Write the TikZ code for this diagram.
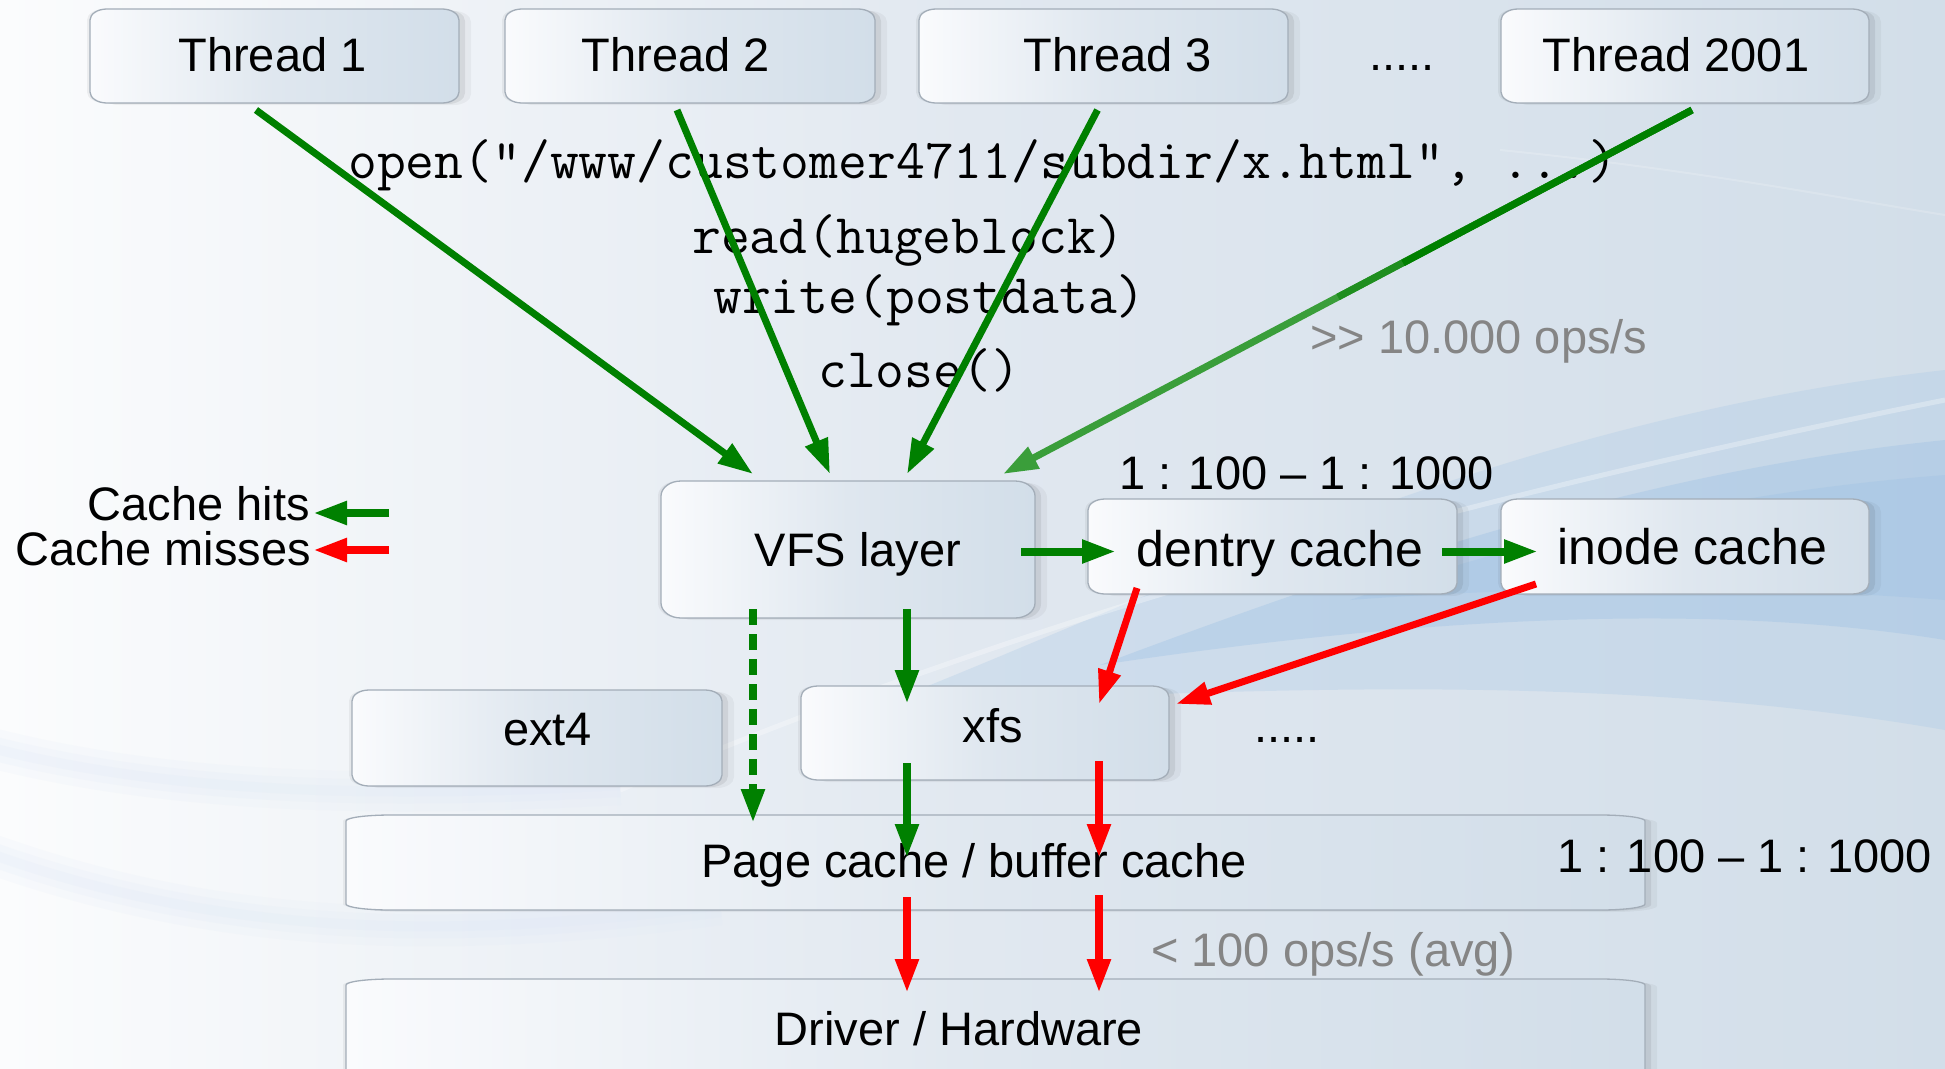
\documentclass[tikz,border=0pt]{standalone}
\usepackage{fontspec}
\setmainfont{Liberation Sans}
\usetikzlibrary{arrows.meta}
\definecolor{gr}{HTML}{008000}
\definecolor{grm}{HTML}{1F8E1F}
\definecolor{grl}{HTML}{3A9E3A}
\definecolor{rd}{HTML}{FF0000}
\definecolor{boxl}{HTML}{FAFBFD}
\definecolor{boxm}{HTML}{DFE7EF}
\definecolor{boxr}{HTML}{D2DEE9}
\definecolor{edgec}{HTML}{A3ADB8}
\definecolor{graytxt}{HTML}{858585}
\definecolor{bgl}{HTML}{FBFCFD}
\definecolor{bgm}{HTML}{E1E8F0}
\definecolor{bgr}{HTML}{D2DEE9}
\definecolor{swa}{HTML}{A9C8E6}
\definecolor{swb}{HTML}{9CC0E4}
\definecolor{swc}{HTML}{DCE7F6}
\tikzset{
  boxpath/.style n args={6}{insert path={({#1+#5},{-(#2)}) -- ({#3-#5},{-(#2)})
    arc[start angle=90,end angle=0,x radius=#5pt,y radius=#6pt] -- ({#3},{-(#4)+#6})
    arc[start angle=0,end angle=-90,x radius=#5pt,y radius=#6pt] -- ({#1+#5},{-(#4)})
    arc[start angle=270,end angle=180,x radius=#5pt,y radius=#6pt] -- ({#1},{-(#2)-#6})
    arc[start angle=180,end angle=90,x radius=#5pt,y radius=#6pt] -- cycle}},
  boxface/.style={left color=boxl, right color=boxr, middle color=boxm, draw=edgec, line width=1.3pt},
  lbl/.style={font=\fontsize{47}{56}\selectfont, inner sep=0pt, anchor=base},
  lblbig/.style={font=\fontsize{50}{60}\selectfont, inner sep=0pt, anchor=base},
  note/.style={font=\fontsize{47}{56}\selectfont, inner sep=0pt, anchor=base west},
  graynote/.style={note, text=graytxt},
  code/.style={font=\ttfamily\fontsize{56}{62}\selectfont, inner sep=0pt, anchor=base west},
  tarrow/.style={draw=gr, line width=7pt, -{Triangle[length=35pt,width=23pt]}},
  garrow/.style={draw=gr, line width=8pt, -{Triangle[length=34pt,width=22pt]}},
  rarrow/.style={draw=rd, line width=8pt, -{Triangle[length=34pt,width=22pt]}},
}
\newcommand{\drawrbox}[6]{%
  \fill[black,opacity=.04,xshift=12pt,yshift=-2pt,boxpath={#1}{#2}{#3}{#4}{#5}{#6}];
  \fill[black,opacity=.07,xshift=6pt,yshift=-1pt,boxpath={#1}{#2}{#3}{#4}{#5}{#6}];
  \fill[black,opacity=.05,xshift=-3pt,boxpath={#1}{#2}{#3}{#4}{#5}{#6}];
  \path[boxface,boxpath={#1}{#2}{#3}{#4}{#5}{#6}];
}
\begin{document}
\begin{tikzpicture}[x=1pt,y=1pt]
\useasboundingbox (0,0) rectangle (1945,-1068);
\clip (0,0) rectangle (1945,-1068);
% background
\fill[left color=bgl, right color=bgr, middle color=bgm] (0,0) rectangle (1945,-1068);
\fill[swa, opacity=.30] (880,-705) .. controls (1150,-600) and (1500,-420) .. (1945,-370)
  -- (1945,-730) .. controls (1600,-670) and (1250,-690) .. (880,-705) -- cycle;
\fill[swb, opacity=.35] (1100,-665) .. controls (1380,-560) and (1650,-470) .. (1945,-440)
  -- (1945,-640) .. controls (1700,-600) and (1400,-620) .. (1100,-665) -- cycle;
\fill[swb, opacity=.30] (1350,-600) .. controls (1550,-530) and (1750,-490) .. (1945,-475)
  -- (1945,-600) .. controls (1750,-585) and (1550,-585) .. (1350,-600) -- cycle;
\draw[white, opacity=.30, line width=5pt] (620,-790) .. controls (950,-650) and (1350,-520) .. (1945,-400);
\draw[white, opacity=.18, line width=2pt] (1500,-150) .. controls (1700,-170) and (1850,-200) .. (1945,-215);
\foreach \w/\o in {40/.12, 24/.15, 10/.18} {
  \draw[swc, opacity=\o, line width=\w pt] (-20,-745) .. controls (150,-790) and (350,-800) .. (620,-785);
  \draw[swc, opacity=\o, line width=\w pt] (-20,-850) .. controls (200,-930) and (420,-945) .. (720,-905);
}
% boxes
\drawrbox{90}{9}{459}{103}{17}{11}
\drawrbox{505}{9}{875}{103}{17}{11}
\drawrbox{919}{9}{1288}{103}{17}{11}
\drawrbox{1501}{9}{1869}{103}{17}{11}
\drawrbox{661}{481}{1035}{618}{20}{15}
\drawrbox{1088}{499}{1457}{594}{17}{11}
\drawrbox{1501}{499}{1869}{594}{17}{11}
\drawrbox{352}{690}{722}{786}{17}{11}
\drawrbox{801}{686}{1169}{780}{17}{11}
\drawrbox{346}{815}{1645}{910}{45}{6}
\drawrbox{346}{979}{1645}{1140}{45}{6}
% box labels
\node[lbl] (t1) at (272.5,-71) {Thread 1};
\node[lbl] (t2) at (676,-71) {Thread 2};
\node[lbl] (t3) at (1118,-71) {Thread 3};
\node[lbl] (t4) at (1676,-71) {Thread 2001};
\node[lbl] (vfs) at (858,-566) {VFS layer};
\node[lblbig] (dentry) at (1280,-566) {dentry cache};
\node[lblbig] (inode) at (1692.6,-564) {inode cache};
\node[lbl] (ext4) at (547.5,-745) {ext4};
\node[lbl] (xfs) at (993,-742) {xfs};
\node[lbl] (page) at (974,-877) {Page cache / buffer cache};
\node[lbl] (drv) at (959,-1045) {Driver / Hardware};
% other texts
\node[note] (dots1) at (1369,-70) {.....};
\node[note] (dots2) at (1254,-742) {.....};
\node[note] (ratio1) at (1119,-489) {1 : 100 – 1 : 1000};
\node[note] (ratio2) at (1557,-872.5) {1 : 100 – 1 : 1000};
\node[graynote] (ops1) at (1310,-353) {>\kern0pt>\kern0pt{} 10.000 ops/s};
\node[graynote] (ops2) at (1151,-966) {< 100 ops/s (avg)};
\node[lbl, anchor=base east] (hits) at (310,-520) {Cache hits};
\node[lbl, anchor=base east] (miss) at (311,-565) {Cache misses};
\node[code] (copen) at (348,-178) {open(“/www/customer4711/subdir/x.html”, ...)};
\node[code] (cread) at (692,-253) {read(hugeblock)};
\node[code] (cwrite) at (713,-313) {write(postdata)};
\node[code] (cclose) at (818,-387) {close()};
% connector end points
\coordinate (t1o) at (256,-110);   \coordinate (v1) at (753,-474);
\coordinate (t2o) at (677,-110);   \coordinate (v2) at (830,-474);
\coordinate (t3o) at (1097.5,-110); \coordinate (v3) at (907,-474);
\coordinate (t4o) at (1692,-110);  \coordinate (v4) at (1003,-474);
\coordinate (t4a) at (1403,-263);  \coordinate (t4b) at (1338,-297);
\coordinate (vr) at (1021,-551.5); \coordinate (dl) at (1116,-551.5);
\coordinate (dr) at (1442,-551.5); \coordinate (il) at (1538,-551.5);
\coordinate (vb1) at (753,-609);   \coordinate (pt1) at (753,-823);
\coordinate (vb2) at (907,-609);   \coordinate (xt1) at (907,-704);
\coordinate (xb1) at (907,-763);   \coordinate (pt2) at (907,-858);
\coordinate (pb1) at (907,-897);   \coordinate (dt1) at (907,-993);
\coordinate (db) at (1137,-588);   \coordinate (xt2) at (1099,-704);
\coordinate (ib) at (1536,-584);   \coordinate (xt3) at (1176,-704);
\coordinate (xb2) at (1099,-761);  \coordinate (pt3) at (1099,-858);
\coordinate (pb2) at (1099,-895);  \coordinate (dt2) at (1099,-993);
\coordinate (lg1) at (389,-513);   \coordinate (lg2) at (389,-550);
\coordinate (lt1) at (313,-513);   \coordinate (lt2) at (313,-550);
% connectors
\draw[tarrow] (t1o) -- (v1);
\draw[tarrow] (t2o) -- (v2);
\draw[tarrow] (t3o) -- (v3);
\draw[tarrow, draw=grl] (t4o) -- (v4);
\draw[draw=grm, line width=7pt] (t4o) -- (t4b);
\draw[draw=gr, line width=7pt] (t4o) -- (t4a);
\draw[garrow] (vr) -- (dl);
\draw[garrow] (dr) -- (il);
\draw[garrow] (vb2) -- (xt1);
\draw[garrow, dash pattern=on 15.5pt off 9.5pt] (vb1) -- (pt1);
\draw[garrow] (xb1) -- (pt2);
\draw[rarrow] (pb1) -- (dt1);
\draw[rarrow, line width=7pt] (db) -- (xt2);
\draw[rarrow, line width=7pt] (ib) -- (xt3);
\draw[rarrow] (xb2) -- (pt3);
\draw[rarrow] (pb2) -- (dt2);
\draw[garrow] (lg1) -- (lt1);
\draw[rarrow] (lg2) -- (lt2);
\end{tikzpicture}
\end{document}
